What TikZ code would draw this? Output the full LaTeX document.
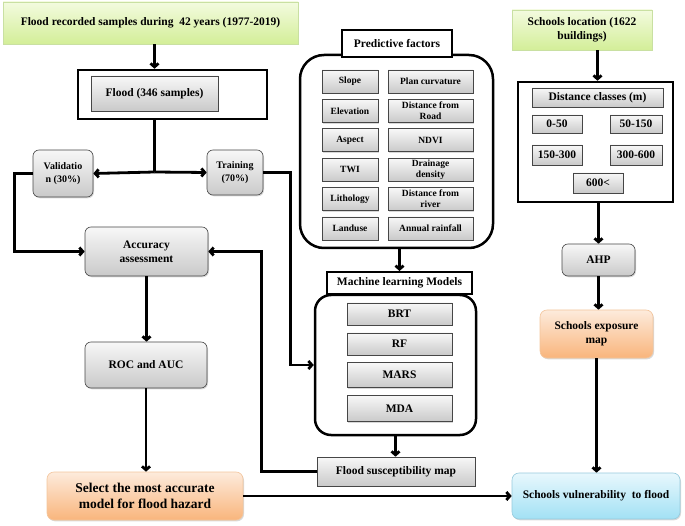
\documentclass[tikz,border=0pt]{standalone}
\usepackage{fontspec}
\setmainfont{Liberation Serif}
\usetikzlibrary{arrows.meta,shadows}

\definecolor{greentop}{HTML}{F3FBDF}
\definecolor{greenbot}{HTML}{D3EE98}
\definecolor{greenline}{HTML}{C9E0A2}
\definecolor{orangetop}{HTML}{FDEBDC}
\definecolor{orangebot}{HTML}{F9B57C}
\definecolor{orangeline}{HTML}{F3C59C}
\definecolor{bluetop}{HTML}{E8F8FD}
\definecolor{bluebot}{HTML}{A2E1F4}
\definecolor{blueline}{HTML}{96CADC}

\begin{document}
\begin{tikzpicture}[x=1pt,y=-1pt,
  every node/.style={font=\bfseries\fontsize{11.5}{14}\selectfont, align=center, inner sep=1pt},
  shade/.style={drop shadow={shadow xshift=1pt, shadow yshift=-1.3pt, opacity=0.3, fill=gray}},
  graybox/.style={shade, draw=gray!55!black, line width=0.6pt, top color=gray!6, bottom color=gray!42},
  grayround/.style={graybox, rounded corners=6pt},
  factor/.style={graybox, minimum height=23, font=\bfseries\fontsize{9.5}{11}\selectfont},
  greenbox/.style={shade, draw=greenline, line width=0.6pt, top color=greentop, bottom color=greenbot},
  orangebox/.style={shade, draw=orangeline, line width=0.6pt, top color=orangetop, bottom color=orangebot, rounded corners=7pt},
  bluebox/.style={shade, draw=blueline, line width=0.6pt, top color=bluetop, bottom color=bluebot, rounded corners=7pt},
  frame/.style={draw, line width=2.5pt, fill=white},
  titlebox/.style={frame, line width=2pt},
  conn/.style={line width=2.8pt},
  arr/.style={conn, -{Straight Barb[length=3.5pt,width=8pt]}}]

  \useasboundingbox (0,0) rectangle (685,526);

  % helper for one row of predictive factors
  \newcommand{\factorpair}[4]{%
    \node[factor, minimum width=56] (#1l) at (350,#2) {#3};
    \node[factor, minimum width=85] (#1r) at (430.5,#2) {#4};
  }

  %==================== flood samples ====================
  \node[greenbox, minimum width=295, minimum height=42] (rec) at (150.5,23)
    {Flood recorded samples during\ \ 42 years (1977-2019)};
  \node[frame, minimum width=189, minimum height=49] (floodbox) at (172.5,94.5) {};
  \node[graybox, minimum width=127, minimum height=35] (flood) at (154.5,93.5) {Flood (346 samples)};
  \coordinate (split) at (154.5,172);
  \node[grayround, minimum width=60, minimum height=47, font=\bfseries\fontsize{10}{12.5}\selectfont]
    (valid) at (63,173.5) {Validatio\\n (30\%)};
  \node[grayround, minimum width=56, minimum height=45, font=\bfseries\fontsize{10}{12.5}\selectfont]
    (train) at (235,172.5) {Training\\(70\%)};
  \node[grayround, minimum width=123, minimum height=49] (acc) at (146.5,251.5) {Accuracy\\assessment};
  \node[grayround, minimum width=122, minimum height=46] (roc) at (146,365) {ROC and AUC};
  \node[orangebox, minimum width=196, minimum height=48, font=\bfseries\fontsize{13.5}{16}\selectfont]
    (select) at (145,496) {Select the most accurate\\model for flood hazard};

  %==================== predictive factors ====================
  \node[frame, rounded corners=24pt, minimum width=193, minimum height=193] (pfframe) at (396.5,151.5) {};
  \node[titlebox, minimum width=110, minimum height=27] (pftitle) at (397,43.5) {Predictive factors};
  \factorpair{slope}{81.5}{Slope}{Plan curvature}
  \factorpair{elev}{110.9}{Elevation}{Distance from\\Road}
  \factorpair{asp}{140.3}{Aspect}{NDVI}
  \factorpair{twi}{169.7}{TWI}{Drainage\\density}
  \factorpair{lith}{199.1}{Lithology}{Distance from\\river}
  \factorpair{land}{228.5}{Landuse}{Annual rainfall}

  %==================== machine learning models ====================
  \node[frame, rounded corners=16pt, minimum width=161, minimum height=140] (mlframe) at (395.5,365) {};
  \node[titlebox, minimum width=145, minimum height=22] (mltitle) at (399.5,283) {Machine learning Models};
  \node[graybox, minimum width=105, minimum height=22] (brt) at (399.5,314) {BRT};
  \node[graybox, minimum width=105, minimum height=22] (rf) at (399.5,344) {RF};
  \node[graybox, minimum width=105, minimum height=25] (mars) at (399.5,375) {MARS};
  \node[graybox, minimum width=105, minimum height=26] (mda) at (399.5,408.5) {MDA};
  \node[graybox, minimum width=158, minimum height=29] (fsm) at (396,471.5) {Flood susceptibility map};

  %==================== schools ====================
  \node[greenbox, minimum width=140, minimum height=40] (sloc) at (582,30) {Schools location (1622\\buildings)};
  \node[frame, minimum width=155, minimum height=120] (distbox) at (595.5,142) {};
  \node[graybox, minimum width=131, minimum height=19] (dclass) at (597.5,97.5) {Distance classes (m)};
  \node[graybox, minimum width=50, minimum height=18] (d1) at (557,124) {0-50};
  \node[graybox, minimum width=52, minimum height=18] (d2) at (636,124) {50-150};
  \node[graybox, minimum width=50, minimum height=20] (d3) at (557,155) {150-300};
  \node[graybox, minimum width=52, minimum height=20] (d4) at (636,155) {300-600};
  \node[graybox, minimum width=50, minimum height=20] (d5) at (598,183) {600<};
  \node[grayround, minimum width=73, minimum height=32] (ahp) at (598.5,260) {AHP};
  \node[orangebox, minimum width=113, minimum height=48] (expo) at (596.5,334) {Schools exposure\\map};
  \node[bluebox, minimum width=168, minimum height=46] (vuln) at (596,496) {Schools vulnerability\ \ to flood};

  %==================== connectors ====================
  \draw[arr] (flood.north |- rec.south) -- (flood.north |- floodbox.north);
  \draw[conn] (flood.south |- floodbox.south) -- (split);
  \draw[arr] (split) -- (valid.east);
  \draw[arr] (split) -- (train.west);
  \draw[arr] (valid.west) -- ++(-18,0) |- (acc.west);
  \draw[arr] (train.east) -- ++(27,0) |- (mlframe.west);
  \draw[arr] (acc.south) -- (acc.south |- roc.north);
  \draw[arr] (roc.south) -- (roc.south |- select.north);
  \draw[arr] (select.east) -- (vuln.west);
  \draw[arr] (fsm.west) -- ++(-55,0) |- (acc.east);
  \draw[arr] (mltitle.north |- pfframe.south) -- (mltitle.north);
  \draw[arr] (mlframe.south) -- (mlframe.south |- fsm.north);
  \draw[arr] (dclass.north |- sloc.south) -- (dclass.north |- distbox.north);
  \draw[arr] (ahp.north |- distbox.south) -- (ahp.north);
  \draw[arr] (ahp.south) -- (ahp.south |- expo.north);
  \draw[arr] (expo.south) -- (expo.south |- vuln.north);

\end{tikzpicture}
\end{document}
